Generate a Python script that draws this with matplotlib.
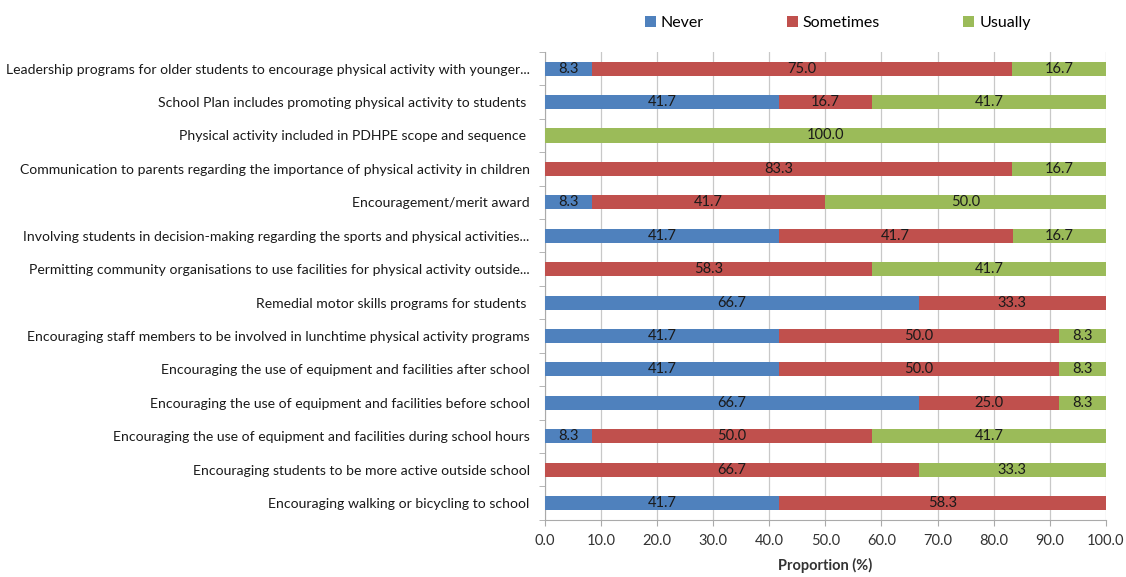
import matplotlib
matplotlib.use("Agg")
import matplotlib.pyplot as plt
import numpy as np

plt.rcParams["font.family"] = ["Lato", "DejaVu Sans"]

categories = [
    "Leadership programs for older students to encourage physical activity with younger...",
    "School Plan includes promoting physical activity to students ",
    "Physical activity included in PDHPE scope and sequence ",
    "Communication to parents regarding the importance of physical activity in children",
    "Encouragement/merit award",
    "Involving students in decision-making regarding the sports and physical activities...",
    "Permitting community organisations to use facilities for physical activity outside...",
    "Remedial motor skills programs for students ",
    "Encouraging staff members to be involved in lunchtime physical activity programs",
    "Encouraging the use of equipment and facilities after school",
    "Encouraging the use of equipment and facilities before school",
    "Encouraging the use of equipment and facilities during school hours",
    "Encouraging students to be more active outside school",
    "Encouraging walking or bicycling to school",
]
never = [8.3, 41.7, 0, 0, 8.3, 41.7, 0, 66.7, 41.7, 41.7, 66.7, 8.3, 0, 41.7]
sometimes = [75.0, 16.7, 0, 83.3, 41.7, 41.7, 58.3, 33.3, 50.0, 50.0, 25.0, 50.0, 66.7, 58.3]
usually = [16.7, 41.7, 100.0, 16.7, 50.0, 16.7, 41.7, 0, 8.3, 8.3, 8.3, 41.7, 33.3, 0]

series = [
    ("Never", never, "#4f81bd"),
    ("Sometimes", sometimes, "#c0504d"),
    ("Usually", usually, "#9bbb59"),
]

fig = plt.figure(figsize=(11.26, 5.77), dpi=100)
ax = fig.add_axes([0.484, 0.099, 0.498, 0.811])

y = np.arange(len(categories))[::-1]
left = np.zeros(len(categories))
for name, vals, color in series:
    vals = np.array(vals, dtype=float)
    ax.barh(y, vals, left=left, height=0.42, color=color, label=name, zorder=3)
    for yi, l, v in zip(y, left, vals):
        if v > 0:
            ax.text(l + v / 2, yi, f"{v:.1f}", ha="center", va="center",
                    fontsize=10.5, color="#1a1a1a", zorder=4)
    left += vals

ax.set_xlim(0, 100)
ax.set_ylim(-0.5, len(categories) - 0.5)
ax.set_xticks(np.arange(0, 101, 10))
ax.set_xticklabels([f"{v:.1f}" for v in np.arange(0, 101, 10)], fontsize=10.5, color="#333333")
ax.set_yticks(y)
ax.set_yticklabels(categories, fontsize=10.1, color="#1a1a1a")
ax.set_yticks(np.arange(-0.5, len(categories), 1), minor=True)
ax.tick_params(axis="y", which="major", length=0, pad=11)
ax.tick_params(axis="y", which="minor", length=4, color="#aaaaaa")
ax.tick_params(axis="x", length=4, color="#aaaaaa", pad=6)
ax.grid(axis="x", color="#c8c8c8", linewidth=0.9, zorder=0)
for s in ["top", "right"]:
    ax.spines[s].set_visible(False)
ax.spines["left"].set_color("#aaaaaa")
ax.spines["bottom"].set_color("#aaaaaa")
ax.set_xlabel("Proportion (%)", fontsize=10.5, fontweight="bold", color="#333333", labelpad=7)

fig.legend(loc="center", bbox_to_anchor=(0.744, 0.96), ncol=3, frameon=False,
           fontsize=11.5, handlelength=0.7, handleheight=0.7, handletextpad=0.3,
           columnspacing=5.2)

fig.savefig("out.png", dpi=100)
